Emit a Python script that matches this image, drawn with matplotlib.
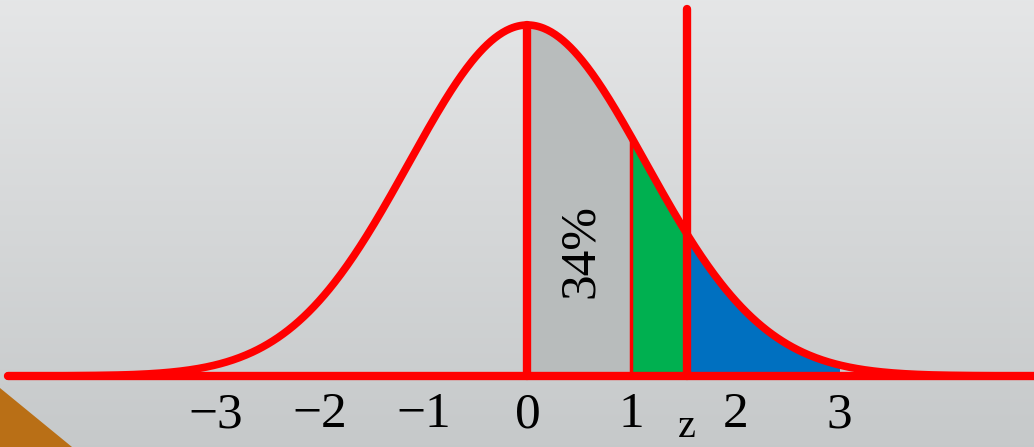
import numpy as np
import matplotlib.pyplot as plt
from matplotlib.patches import Polygon

# tick values and their labels
ticks = [-3, -2, -1, 0, 1, 2, 3]
tick_labels = ["\u22123", "\u22122", "\u22121", "0", "1", "2", "3"]

# curve spread and the marked positions
sigma = 1.14
z_val = 1.53
band_edges = [0, 1, z_val, 3.0]
band_colors = ["#b8bcbc", "#00b050", "#0070c0"]
pct_label = "34%"

x_lo, x_hi = -5.07, 4.87
y_lo, y_hi = -0.2023, 1.0712

def curve(x):
    return np.exp(-x**2 / (2 * sigma**2))

fig = plt.figure(figsize=(10.34, 4.47), dpi=100)
ax = fig.add_axes([0, 0, 1, 1])
ax.set_xlim(x_lo, x_hi)
ax.set_ylim(y_lo, y_hi)
ax.axis("off")

# light grey backdrop, darker towards the bottom
grad = np.linspace(0, 1, 256)[:, None]
top = np.array([0.898, 0.902, 0.906])
bot = np.array([0.776, 0.788, 0.792])
bg = top[None, None, :] * (1 - grad[:, :, None]) + bot[None, None, :] * grad[:, :, None]
ax.imshow(bg, extent=[x_lo, x_hi, y_lo, y_hi], aspect="auto", zorder=0)

# orange corner
ax.add_patch(Polygon([[x_lo, -0.0347], [x_lo, y_lo], [x_lo + 0.69, y_lo]],
                     closed=True, color="#b96f16", lw=0, zorder=1))

# shaded bands under the curve
for i in range(3):
    xs = np.linspace(band_edges[i], band_edges[i + 1], 200)
    ax.fill_between(xs, 0, curve(xs), color=band_colors[i], lw=0, zorder=2)

# curve and guide lines
xs = np.linspace(x_lo + 0.08, x_hi, 800)
ax.plot(xs, curve(xs), color="red", lw=5.5, solid_capstyle="round", zorder=4)
ax.plot([x_lo + 0.08, x_hi], [0, 0], color="red", lw=6, solid_capstyle="round", zorder=4)
ax.plot([0, 0], [0, 1], color="red", lw=6, solid_capstyle="round", zorder=4)
ax.plot([1, 1], [0, curve(1)], color="red", lw=2.5, zorder=3)
ax.plot([z_val, z_val], [0, 1.046], color="red", lw=6, solid_capstyle="round", zorder=4)

# axis labels
for t, lab in zip(ticks, tick_labels):
    ax.text(t, -0.111, lab, ha="center", va="center", fontsize=37,
            family="Liberation Serif", zorder=5)
ax.text(z_val, -0.148, "z", ha="center", va="center", fontsize=29,
        family="Liberation Serif", zorder=5)

ax.text(0.51, 0.355, pct_label, rotation=90, ha="center", va="center",
        fontsize=37, family="Liberation Serif", zorder=5)

fig.savefig("out.png", dpi=100)
